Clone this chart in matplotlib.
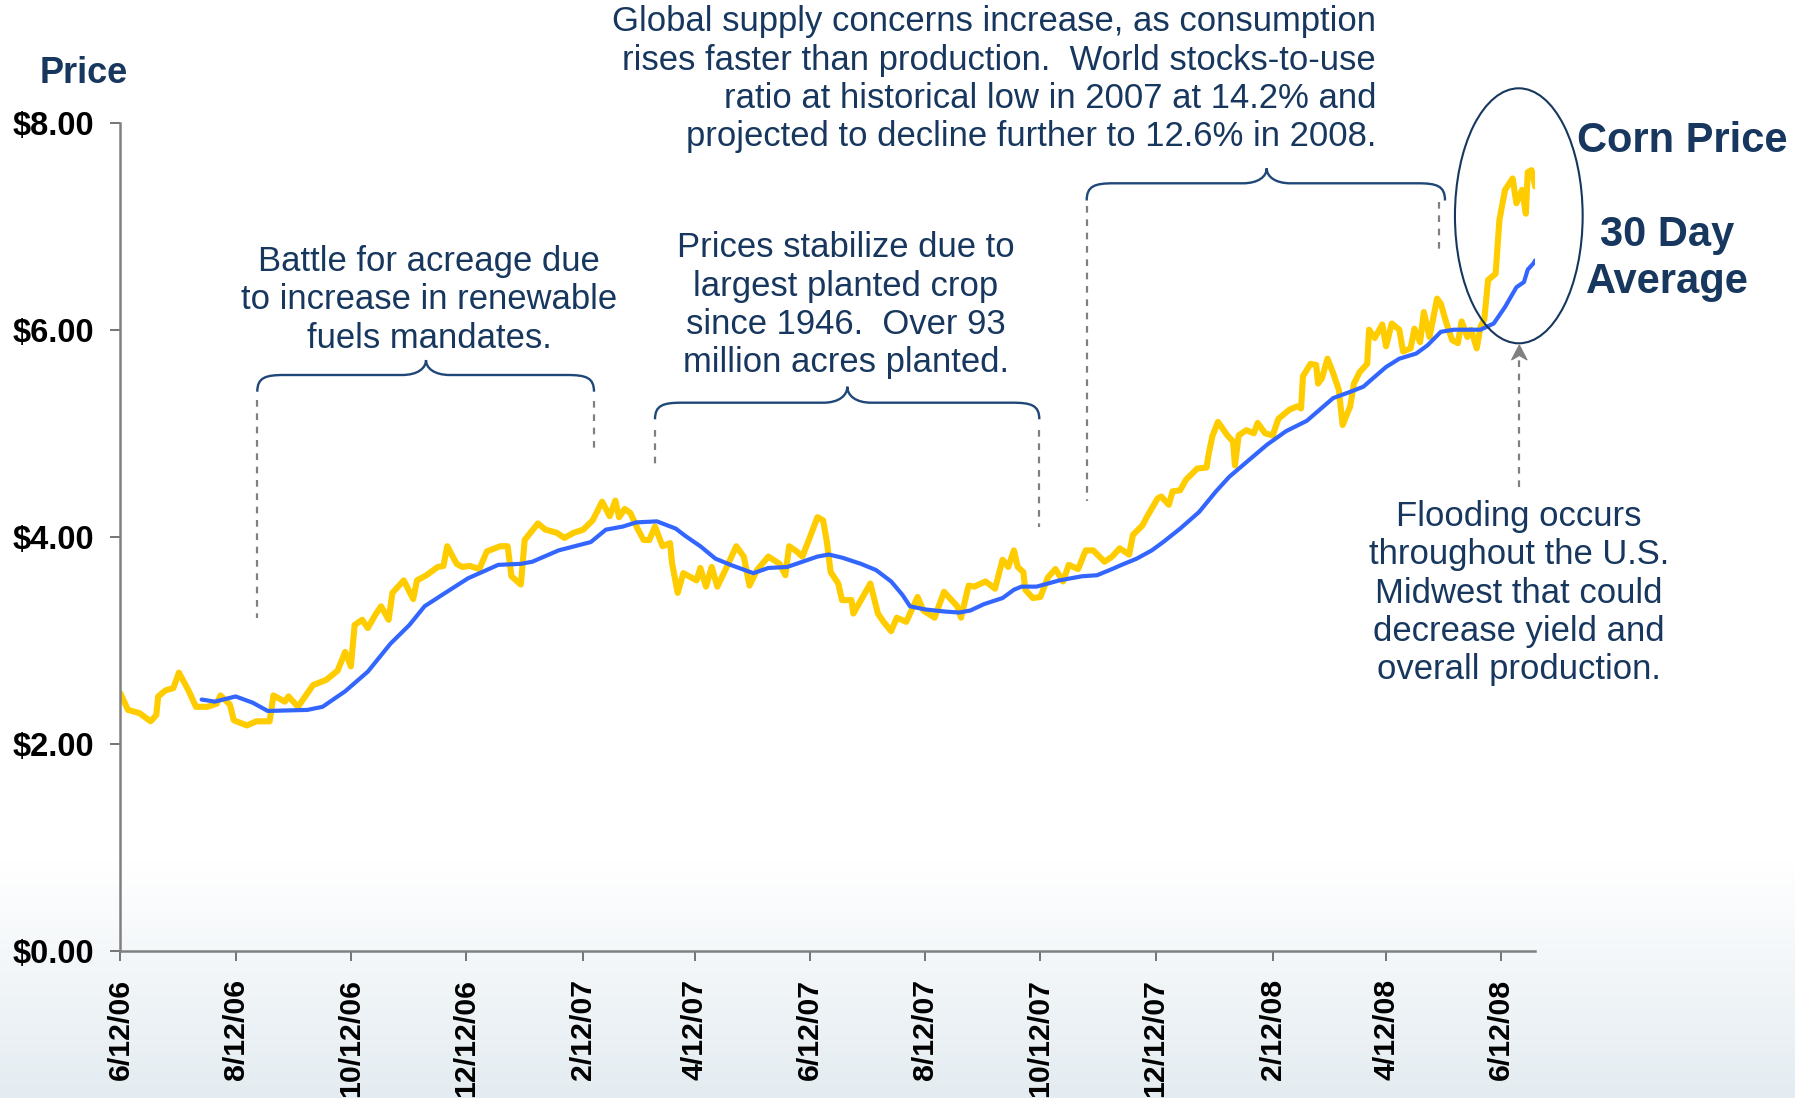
import numpy as np
import pandas as pd
import matplotlib
matplotlib.use("Agg")
import matplotlib.pyplot as plt
from matplotlib.path import Path
from matplotlib.patches import PathPatch, Ellipse, Polygon

plt.rcParams['font.family'] = ['Liberation Sans', 'DejaVu Sans']

# ---------------- data ----------------
START = '2006-06-12'
END_DAY = 749

corn_days = [
    0, 4, 10, 16, 19, 20, 24, 28, 31, 36,
    40, 46, 51, 53, 58, 60, 67, 72, 79, 81,
    87, 89, 94, 102, 109, 115, 119, 122, 124, 128,
    131, 135, 138, 142, 144, 150, 155, 157, 162, 168,
    171, 173, 178, 181, 185, 190, 194, 201, 205, 207,
    212, 214, 221, 225, 231, 235, 240, 245, 250, 255,
    259, 262, 264, 267, 270, 274, 277, 280, 283, 287,
    291, 292, 295, 298, 305, 307, 310, 313, 316, 321,
    326, 330, 333, 337, 343, 349, 352, 354, 358, 361,
    364, 369, 372, 374, 376, 380, 382, 387, 388, 393,
    397, 401, 404, 408, 411, 416, 418, 422, 425, 431,
    436, 443, 445, 449, 452, 458, 463, 467, 470, 473,
    475, 478, 479, 483, 487, 491, 495, 499, 502, 507,
    511, 515, 521, 525, 529, 534, 536, 541, 543, 549,
    551, 555, 557, 561, 564, 570, 575, 576, 578, 581,
    586, 589, 590, 592, 596, 600, 602, 606, 610, 613,
    619, 623, 625, 626, 630, 633, 634, 636, 639, 642,
    645, 647, 651, 653, 656, 660, 661, 664, 668, 670,
    673, 677, 679, 683, 685, 688, 690, 693, 697, 699,
    702, 705, 708, 710, 713, 715, 718, 720, 722, 724,
    728, 730, 733, 737, 739, 742, 744, 745, 747, 749,
]
corn_price = [
    2.49, 2.33, 2.30, 2.22, 2.28, 2.46, 2.52, 2.54, 2.69, 2.52,
    2.36, 2.36, 2.39, 2.47, 2.38, 2.23, 2.18, 2.22, 2.22, 2.47,
    2.41, 2.46, 2.36, 2.57, 2.62, 2.71, 2.89, 2.75, 3.15, 3.20,
    3.12, 3.25, 3.33, 3.20, 3.46, 3.58, 3.40, 3.58, 3.63, 3.71,
    3.72, 3.91, 3.74, 3.71, 3.72, 3.69, 3.86, 3.91, 3.91, 3.62,
    3.54, 3.97, 4.13, 4.07, 4.04, 3.99, 4.04, 4.07, 4.16, 4.34,
    4.20, 4.35, 4.19, 4.27, 4.23, 4.07, 3.97, 3.97, 4.10, 3.91,
    3.94, 3.75, 3.46, 3.65, 3.58, 3.70, 3.52, 3.71, 3.52, 3.71,
    3.91, 3.81, 3.53, 3.68, 3.81, 3.74, 3.63, 3.91, 3.86, 3.81,
    3.95, 4.19, 4.16, 3.95, 3.66, 3.55, 3.39, 3.39, 3.26, 3.42,
    3.55, 3.26, 3.18, 3.09, 3.22, 3.18, 3.26, 3.42, 3.29, 3.22,
    3.47, 3.33, 3.22, 3.53, 3.52, 3.57, 3.50, 3.78, 3.71, 3.87,
    3.71, 3.66, 3.49, 3.41, 3.42, 3.61, 3.69, 3.57, 3.73, 3.69,
    3.87, 3.87, 3.76, 3.81, 3.89, 3.83, 4.02, 4.11, 4.18, 4.37,
    4.39, 4.31, 4.44, 4.45, 4.55, 4.66, 4.67, 4.79, 4.97, 5.11,
    4.98, 4.92, 4.69, 4.98, 5.03, 5.00, 5.10, 5.00, 4.98, 5.14,
    5.23, 5.26, 5.24, 5.55, 5.67, 5.66, 5.48, 5.53, 5.72, 5.58,
    5.42, 5.08, 5.26, 5.48, 5.59, 5.67, 6.00, 5.92, 6.05, 5.84,
    6.06, 6.00, 5.79, 5.82, 6.01, 5.88, 6.17, 5.93, 6.30, 6.25,
    6.06, 5.90, 5.87, 6.08, 5.93, 6.00, 5.82, 6.03, 6.10, 6.48,
    6.54, 7.06, 7.35, 7.46, 7.22, 7.35, 7.12, 7.52, 7.54, 7.38,
]

avg_days = [
    43, 50, 61, 70, 78, 99, 107, 119, 131, 143,
    153, 161, 172, 184, 200, 212, 218, 232, 249, 257,
    266, 273, 284, 294, 299, 307, 315, 323, 335, 343,
    353, 361, 369, 375, 382, 392, 400, 408, 414, 418,
    426, 436, 444, 450, 457, 467, 473, 477, 485, 497,
    509, 517, 525, 530, 538, 546, 552, 561, 571, 580,
    587, 596, 607, 617, 628, 635, 642, 651, 658, 663,
    670, 677, 686, 692, 699, 706, 713, 720, 727, 733,
    739, 743, 745, 748, 749,
]
avg_price = [
    2.43, 2.41, 2.46, 2.40, 2.32, 2.33, 2.36, 2.51, 2.70, 2.97,
    3.15, 3.33, 3.46, 3.60, 3.73, 3.74, 3.76, 3.87, 3.95, 4.07,
    4.10, 4.14, 4.15, 4.08, 4.01, 3.91, 3.79, 3.73, 3.65, 3.70,
    3.71, 3.76, 3.81, 3.83, 3.80, 3.74, 3.68, 3.57, 3.44, 3.33,
    3.30, 3.28, 3.27, 3.29, 3.35, 3.41, 3.49, 3.52, 3.52, 3.58,
    3.62, 3.63, 3.69, 3.73, 3.79, 3.87, 3.95, 4.08, 4.24, 4.44,
    4.58, 4.72, 4.89, 5.02, 5.12, 5.23, 5.34, 5.40, 5.45, 5.53,
    5.64, 5.72, 5.77, 5.85, 5.98, 6.00, 6.00, 6.00, 6.06, 6.22,
    6.41, 6.46, 6.58, 6.64, 6.67,
]

x_tick_labels = ['6/12/06', '8/12/06', '10/12/06', '12/12/06', '2/12/07', '4/12/07',
                 '6/12/07', '8/12/07', '10/12/07', '12/12/07', '2/12/08', '4/12/08', '6/12/08']
y_ticks = [0, 2, 4, 6, 8]
y_tick_labels = ['$0.00', '$2.00', '$4.00', '$6.00', '$8.00']

assert len(corn_days) == len(corn_price)
assert len(avg_days) == len(avg_price)

# ---------------- styles ----------------
W, H = 1795, 1098
NAVY = '#17375e'
BRACE = '#1f4778'
GRAY = '#808080'
YELLOW = '#ffcc00'
BLUE = '#3366ff'

fig = plt.figure(figsize=(W / 100, H / 100), dpi=100)

# background gradient
bg = fig.add_axes([0, 0, 1, 1], zorder=0)
rows = np.linspace(0, 1, H)
t = np.clip((rows * H - 860) / (H - 860), 0, 1)[:, None]
top = np.array([1.0, 1.0, 1.0])
bot = np.array([228, 236, 241]) / 255
grad = (1 - t) * top + t * bot
bg.imshow(grad[:, None, :], aspect='auto', extent=[0, 1, 0, 1], origin='upper')
bg.axis('off')

# main axes
ax = fig.add_axes([120.4 / W, 1 - 951.3 / H, 1414.9 / W, 828.8 / H], zorder=1)
ax.patch.set_alpha(0)

start = pd.Timestamp(START)
corn_x = start + pd.to_timedelta(corn_days, unit='D')
avg_x = start + pd.to_timedelta(avg_days, unit='D')

ax.plot(corn_x, corn_price, color=YELLOW, lw=4.4, solid_joinstyle='round', solid_capstyle='round')
ax.plot(avg_x, avg_price, color=BLUE, lw=3.0, solid_joinstyle='round', solid_capstyle='round')

ax.set_ylim(0, 8)
ax.set_xlim(start, start + pd.Timedelta(days=END_DAY))
ax.set_yticks(y_ticks)
ax.set_yticklabels(y_tick_labels, fontsize=23.5, fontweight='bold', color='black')
tick_pos = pd.to_datetime(x_tick_labels, format='%m/%d/%y')
ax.set_xticks(tick_pos)
ax.set_xticklabels(x_tick_labels, rotation=90, fontsize=21.8, fontweight='bold', color='black')
ax.tick_params(axis='both', direction='out', length=7.5, width=1.1, color='#505050', pad=12.5)
ax.tick_params(axis='y', pad=11.5)

for s in ['top', 'right']:
    ax.spines[s].set_visible(False)
for s in ['left', 'bottom']:
    ax.spines[s].set_color(GRAY)
    ax.spines[s].set_linewidth(1.8)

# ---------------- annotation overlay (pixel coordinates) ----------------
ov = fig.add_axes([0, 0, 1, 1], zorder=2)
ov.set_xlim(0, W)
ov.set_ylim(H, 0)
ov.axis('off')
ov.patch.set_alpha(0)


def brace(x0, x1, y, ye, xt, yt, r=27, m=24):
    verts = [(x0, ye), (x0, y + (ye - y) * 0.15), (x0 + r * 0.3, y), (x0 + r, y),
             (xt - m, y),
             (xt - m * 0.35, y), (xt, y - (y - yt) * 0.45), (xt, yt),
             (xt, y - (y - yt) * 0.45), (xt + m * 0.35, y), (xt + m, y),
             (x1 - r, y),
             (x1 - r * 0.3, y), (x1, y + (ye - y) * 0.15), (x1, ye)]
    codes = [Path.MOVETO, Path.CURVE4, Path.CURVE4, Path.CURVE4, Path.LINETO,
             Path.CURVE4, Path.CURVE4, Path.CURVE4,
             Path.CURVE4, Path.CURVE4, Path.CURVE4, Path.LINETO,
             Path.CURVE4, Path.CURVE4, Path.CURVE4]
    ov.add_patch(PathPatch(Path(verts, codes), fill=False, ec=BRACE, lw=1.7))


def dashed(x, y0, y1):
    ov.plot([x, x], [y0, y1], color=GRAY, lw=1.6, dashes=(3, 3))


brace(257.3, 594.0, 375.0, 391.7, 426.0, 360.0)
brace(655.0, 1039.3, 402.7, 419.3, 847.3, 386.7)
brace(1086.7, 1445.0, 183.3, 200.5, 1266.7, 168.3)

dashed(257.3, 400, 618)
dashed(594.0, 401, 452)
dashed(655.0, 430, 464)
dashed(1039.3, 430, 527)
dashed(1086.7, 206, 501)
dashed(1439.3, 202, 249)

# ellipse around the recent spike
ov.add_patch(Ellipse((1518.8, 215.8), 127.7, 255, fill=False, ec=NAVY, lw=1.5))

# arrow from flooding note to ellipse
dashed(1519.3, 487, 358)
ov.add_patch(Polygon([(1519.3, 345), (1511.5, 360), (1519.3, 355.5), (1527.1, 360)],
                     closed=True, fc=GRAY, ec=GRAY, lw=0.8))

# texts
ov.text(84, 82.7, 'Price', ha='center', va='baseline', fontsize=26,
        fontweight='bold', color=NAVY)
ov.text(1577, 151.7, 'Corn Price', ha='left', va='baseline', fontsize=30,
        fontweight='bold', color=NAVY)
ov.text(1667, 293.3, '30 Day\nAverage', ha='center', va='baseline',
        multialignment='center', fontsize=30, fontweight='bold', color=NAVY,
        linespacing=1.22)

note_kw = dict(fontsize=24.9, color=NAVY, va='baseline', linespacing=1.2)
ov.text(429, 347.5, 'Battle for acreage due\nto increase in renewable\nfuels mandates.',
        ha='center', multialignment='center', **note_kw)
ov.text(846, 372, 'Prices stabilize due to\nlargest planted crop\nsince 1946.  Over 93\nmillion acres planted.',
        ha='center', multialignment='center', **note_kw)
ov.text(1376, 146, 'Global supply concerns increase, as consumption\nrises faster than production.  World stocks-to-use\nratio at historical low in 2007 at 14.2% and\nprojected to decline further to 12.6% in 2008.',
        ha='right', multialignment='right', **note_kw)
ov.text(1519, 679, 'Flooding occurs\nthroughout the U.S.\nMidwest that could\ndecrease yield and\noverall production.',
        ha='center', multialignment='center', **note_kw)

fig.savefig('out.png', dpi=100)
